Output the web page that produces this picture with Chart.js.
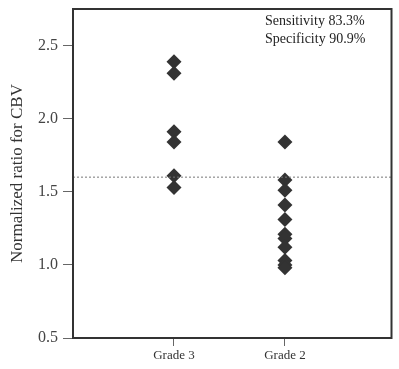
<!DOCTYPE html>
<html>
<head>
<meta charset="utf-8">
<script src="https://cdn.jsdelivr.net/npm/chart.js@4.4.1/dist/chart.umd.min.js"></script>
<style>
  html, body { margin: 0; padding: 0; background: #fff; }
  #wrap { width: 399px; height: 369px; }
</style>
</head>
<body>
<div id="wrap"><canvas id="chart"></canvas></div>
<script>
// Data
const categories = ['Grade 3', 'Grade 2'];
const grade3Values = [2.39, 2.31, 1.91, 1.84, 1.61, 1.53];
const grade2Values = [1.84, 1.58, 1.51, 1.41, 1.31, 1.21, 1.18, 1.12, 1.03, 1.00, 0.98];
const yTicks = [0.5, 1.0, 1.5, 2.0, 2.5];
const cutoff = 1.60;
const notes = ['Sensitivity 83.3%', 'Specificity 90.9%'];

const serif = '"Liberation Serif", "DejaVu Serif", serif';

// Border box, dotted cutoff line and the text note
const framePlugin = {
  id: 'frame',
  afterDatasetsDraw(chart) {
    const { ctx, chartArea: a, scales } = chart;
    ctx.save();
    const y = scales.y.getPixelForValue(cutoff);
    ctx.strokeStyle = '#777';
    ctx.lineWidth = 1;
    ctx.setLineDash([2, 2]);
    ctx.beginPath();
    ctx.moveTo(a.left, y);
    ctx.lineTo(a.right, y);
    ctx.stroke();
    ctx.setLineDash([]);

    ctx.strokeStyle = '#333';
    ctx.lineWidth = 2;
    ctx.strokeRect(a.left, a.top, a.right - a.left, a.bottom - a.top);

    ctx.fillStyle = '#222';
    ctx.font = '14px ' + serif;
    ctx.textBaseline = 'middle';
    notes.forEach((t, i) => ctx.fillText(t, a.left + 192, a.top + 12 + i * 18));
    ctx.restore();
  }
};

const toPoints = (vals, x) => vals.map(v => ({ x: x, y: v }));

new Chart(document.getElementById('chart'), {
  type: 'scatter',
  data: {
    datasets: [
      { data: toPoints(grade3Values, 1) },
      { data: toPoints(grade2Values, 2) }
    ]
  },
  options: {
    responsive: true,
    maintainAspectRatio: false,
    animation: false,
    layout: { padding: { top: 9, right: 2, left: 0, bottom: 0 } },
    elements: {
      point: {
        pointStyle: 'rectRot',
        radius: 7.5,
        backgroundColor: '#333',
        borderColor: '#333',
        borderWidth: 0
      }
    },
    plugins: {
      legend: { display: false },
      tooltip: { enabled: false }
    },
    scales: {
      x: {
        type: 'linear',
        min: 0.09,
        max: 2.96,
        afterBuildTicks: s => { s.ticks = categories.map((c, i) => ({ value: i + 1 })); },
        afterFit: s => { s.height = 31; s.paddingLeft = 0; s.paddingRight = 0; },
        ticks: {
          callback: v => categories[v - 1],
          color: '#333',
          font: { family: serif, size: 13 },
          padding: 2
        },
        grid: { drawOnChartArea: false, drawTicks: true, tickLength: 8, color: '#666' },
        border: { display: true, color: '#333', width: 2 }
      },
      y: {
        min: 0.5,
        max: 2.75,
        afterBuildTicks: s => { s.ticks = yTicks.map(v => ({ value: v })); },
        afterFit: s => { s.width = 73; s.paddingTop = 0; s.paddingBottom = 0; },
        ticks: {
          callback: v => v.toFixed(1),
          color: '#444',
          font: { family: serif, size: 16 },
          padding: 5
        },
        grid: { drawOnChartArea: false, drawTicks: true, tickLength: 10, color: '#666' },
        border: { display: true, color: '#333', width: 2 },
        title: {
          display: true,
          text: 'Normalized ratio for CBV',
          color: '#333',
          font: { family: serif, size: 17 },
          padding: { top: 7, bottom: 4 }
        }
      }
    }
  },
  plugins: [framePlugin]
});
</script>
</body>
</html>
